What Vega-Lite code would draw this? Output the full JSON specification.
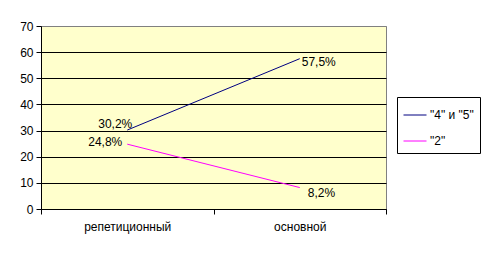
{
  "$schema": "https://vega.github.io/schema/vega-lite/v6.json",
  "width": 345,
  "height": 183,
  "autosize": "none",
  "padding": {"left": 41, "top": 26, "right": 106, "bottom": 47},
  "background": "white",
  "config": {
    "font": "Liberation Sans",
    "view": {"fill": "#FFFFCC", "stroke": "#808080", "strokeWidth": 1}
  },
  "data": {
    "values": [
      {"cat": "репетиционный", "series": "\"4\" и \"5\"", "value": 30.2, "label": "30,2%"},
      {"cat": "основной", "series": "\"4\" и \"5\"", "value": 57.5, "label": "57,5%"},
      {"cat": "репетиционный", "series": "\"2\"", "value": 24.8, "label": "24,8%"},
      {"cat": "основной", "series": "\"2\"", "value": 8.2, "label": "8,2%"}
    ]
  },
  "encoding": {
    "x": {
      "field": "cat", "type": "nominal", "sort": ["репетиционный", "основной"],
      "scale": {"paddingInner": 0, "paddingOuter": 0},
      "axis": {
        "title": null, "labelAngle": 0, "labelFontSize": 12, "labelColor": "black",
        "tickBand": "extent", "tickColor": "black", "tickSize": 5, "labelPadding": 7,
        "domainColor": "black", "grid": false
      }
    },
    "y": {
      "field": "value", "type": "quantitative",
      "scale": {"domain": [0, 70], "nice": false},
      "axis": {
        "title": null, "values": [0, 10, 20, 30, 40, 50, 60, 70],
        "labelFontSize": 12, "labelColor": "black", "tickColor": "black", "tickSize": 5,
        "labelPadding": 3, "domainColor": "black",
        "grid": true,
        "gridColor": {"condition": {"test": "datum.value == 70", "value": "#808080"}, "value": "black"},
        "gridOpacity": 1
      }
    }
  },
  "layer": [
    {
      "mark": {"type": "line", "strokeWidth": 1},
      "encoding": {
        "color": {
          "field": "series", "type": "nominal",
          "scale": {"domain": ["\"4\" и \"5\"", "\"2\""], "range": ["#000080", "#FF00FF"]},
          "legend": {
            "title": null, "orient": "none", "legendX": 356, "legendY": 71,
            "symbolType": "stroke", "symbolSize": 529, "symbolStrokeWidth": 1,
            "labelFontSize": 12, "labelColor": "black", "labelOffset": 3,
            "strokeColor": "black", "fillColor": "white", "padding": 6, "rowPadding": 8
          }
        }
      }
    },
    {
      "transform": [{"filter": "datum.label == '30,2%'"}],
      "mark": {"type": "text", "align": "right", "baseline": "middle", "dx": 5, "dy": -6, "fontSize": 12, "color": "black"},
      "encoding": {"text": {"field": "label"}}
    },
    {
      "transform": [{"filter": "datum.label == '24,8%'"}],
      "mark": {"type": "text", "align": "right", "baseline": "middle", "dx": -5, "dy": -2, "fontSize": 12, "color": "black"},
      "encoding": {"text": {"field": "label"}}
    },
    {
      "transform": [{"filter": "datum.label == '57,5%'"}],
      "mark": {"type": "text", "align": "left", "baseline": "middle", "dx": 2, "dy": 3, "fontSize": 12, "color": "black"},
      "encoding": {"text": {"field": "label"}}
    },
    {
      "transform": [{"filter": "datum.label == '8,2%'"}],
      "mark": {"type": "text", "align": "left", "baseline": "middle", "dx": 8, "dy": 5, "fontSize": 12, "color": "black"},
      "encoding": {"text": {"field": "label"}}
    }
  ]
}
